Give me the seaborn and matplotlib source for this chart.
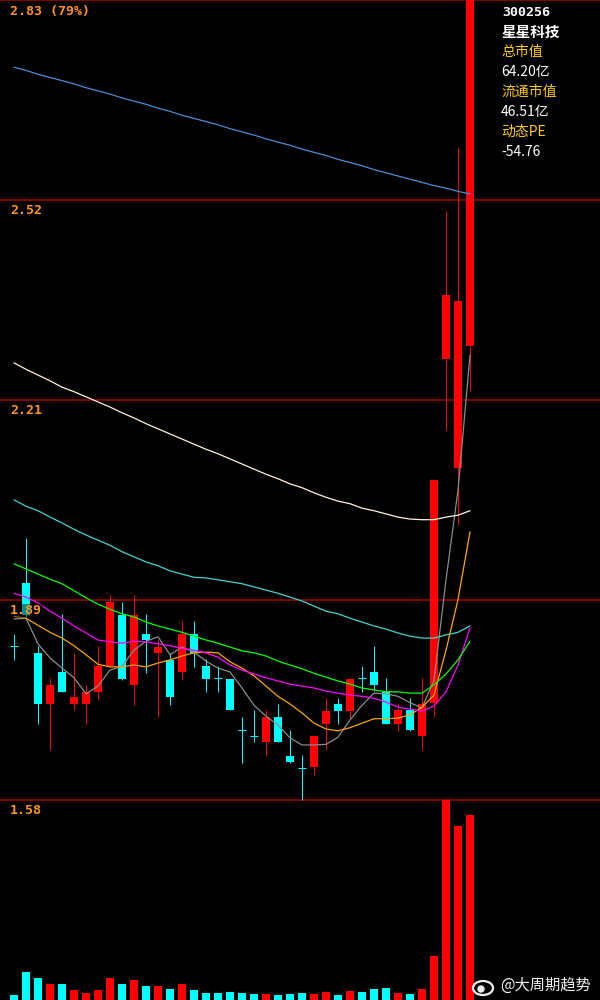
import numpy as np
import pandas as pd
import matplotlib
matplotlib.use("Agg")
import matplotlib.pyplot as plt
from matplotlib.patches import Ellipse, Circle
import seaborn as sns

# ---------------- data ----------------
open_ = [1.821, 1.919, 1.810, 1.730, 1.780, 1.730, 1.730, 1.749, 1.789, 1.869,
         1.760, 1.839, 1.810, 1.799, 1.780, 1.839, 1.789, 1.771, 1.769, 1.689,
         1.680, 1.670, 1.710, 1.649, 1.630, 1.631, 1.699, 1.730, 1.719, 1.770,
         1.780, 1.750, 1.699, 1.720, 1.680, 1.732, 2.269, 2.099, 2.289]
close = [1.821, 1.869, 1.730, 1.760, 1.749, 1.741, 1.749, 1.789, 1.889, 1.769,
         1.869, 1.830, 1.819, 1.741, 1.839, 1.810, 1.769, 1.771, 1.720, 1.689,
         1.680, 1.710, 1.670, 1.640, 1.630, 1.680, 1.719, 1.719, 1.769, 1.770,
         1.760, 1.699, 1.720, 1.689, 1.730, 2.080, 2.369, 2.360, 2.830]
high = [1.839, 1.989, 1.821, 1.771, 1.871, 1.810, 1.760, 1.821, 1.900, 1.890,
        1.900, 1.871, 1.830, 1.810, 1.860, 1.860, 1.800, 1.789, 1.769, 1.710,
        1.721, 1.721, 1.730, 1.689, 1.650, 1.680, 1.740, 1.740, 1.771, 1.789,
        1.821, 1.770, 1.730, 1.740, 1.770, 2.080, 2.500, 2.600, 2.830]
low = [1.799, 1.864, 1.699, 1.658, 1.749, 1.720, 1.699, 1.738, 1.788, 1.768,
       1.728, 1.779, 1.709, 1.728, 1.769, 1.788, 1.749, 1.749, 1.720, 1.638,
       1.670, 1.649, 1.670, 1.638, 1.580, 1.619, 1.660, 1.699, 1.708, 1.749,
       1.750, 1.699, 1.688, 1.688, 1.658, 1.710, 2.158, 2.010, 2.219]
volume = [2.5, 14, 11, 8, 8, 5, 3.5, 5, 11, 8,
          10, 7, 7, 5.5, 8, 5, 3.5, 3.5, 4, 3.5,
          3, 3, 2.5, 3, 3.5, 3, 4, 2.5, 4.5, 4,
          5.5, 6, 3.5, 3, 5.5, 22, 115, 87, 92.5]

ma5 = [1.863, 1.864, 1.824, 1.802, 1.786, 1.771, 1.746, 1.758, 1.783, 1.789,
       1.814, 1.828, 1.835, 1.807, 1.819, 1.811, 1.797, 1.786, 1.780, 1.755,
       1.728, 1.711, 1.697, 1.677, 1.666, 1.666, 1.667, 1.678, 1.705, 1.728,
       1.747, 1.746, 1.742, 1.732, 1.724, 1.767, 1.924, 2.064, 2.275]
ma10 = [1.867, 1.864, 1.853, 1.842, 1.833, 1.821, 1.807, 1.792, 1.788, 1.788,
        1.791, 1.788, 1.794, 1.799, 1.805, 1.810, 1.811, 1.810, 1.796, 1.786,
        1.774, 1.758, 1.742, 1.730, 1.716, 1.700, 1.691, 1.688, 1.693, 1.700,
        1.707, 1.707, 1.708, 1.713, 1.725, 1.744, 1.814, 1.893, 1.999]
ma20 = [1.903, 1.897, 1.888, 1.875, 1.864, 1.852, 1.841, 1.830, 1.827, 1.825,
        1.828, 1.827, 1.824, 1.821, 1.817, 1.814, 1.810, 1.803, 1.791, 1.783,
        1.777, 1.771, 1.766, 1.761, 1.758, 1.755, 1.750, 1.747, 1.744, 1.742,
        1.739, 1.733, 1.725, 1.722, 1.719, 1.727, 1.749, 1.791, 1.849]
ma30 = [1.949, 1.941, 1.933, 1.925, 1.918, 1.907, 1.896, 1.886, 1.878, 1.871,
        1.866, 1.858, 1.852, 1.847, 1.842, 1.836, 1.830, 1.825, 1.819, 1.813,
        1.810, 1.805, 1.797, 1.791, 1.785, 1.778, 1.772, 1.766, 1.761, 1.755,
        1.752, 1.749, 1.749, 1.747, 1.747, 1.760, 1.777, 1.799, 1.828]
ma60 = [2.049, 2.039, 2.032, 2.022, 2.013, 2.003, 1.994, 1.986, 1.978, 1.968,
        1.960, 1.952, 1.946, 1.938, 1.933, 1.928, 1.927, 1.924, 1.921, 1.918,
        1.913, 1.908, 1.903, 1.897, 1.891, 1.883, 1.875, 1.871, 1.864, 1.858,
        1.852, 1.847, 1.841, 1.836, 1.833, 1.833, 1.838, 1.842, 1.852]
ma120 = [2.263, 2.253, 2.244, 2.235, 2.225, 2.218, 2.210, 2.202, 2.194, 2.185,
         2.177, 2.168, 2.160, 2.152, 2.144, 2.136, 2.128, 2.121, 2.113, 2.105,
         2.097, 2.089, 2.082, 2.074, 2.068, 2.060, 2.053, 2.047, 2.043, 2.036,
         2.032, 2.027, 2.022, 2.019, 2.018, 2.018, 2.022, 2.025, 2.032]
ma250 = [2.725, 2.720, 2.714, 2.709, 2.704, 2.699, 2.693, 2.688, 2.683, 2.677,
         2.672, 2.667, 2.661, 2.656, 2.650, 2.645, 2.640, 2.635, 2.629, 2.624,
         2.619, 2.613, 2.608, 2.603, 2.597, 2.592, 2.587, 2.581, 2.576, 2.571,
         2.565, 2.560, 2.555, 2.550, 2.545, 2.540, 2.536, 2.531, 2.527]

grid_levels = [2.83, 2.5175, 2.205, 1.8925, 1.58]
grid_labels = ["2.83 (79%)", "2.52", "2.21", "1.89", "1.58"]

info_code = "300256"
info_name = "星星科技"
info_items = [("总市值", "64.20亿"), ("流通市值", "46.51亿"), ("动态PE", "-54.76")]
watermark = "@大周期趋势"

# ---------------- style ----------------
sns.set_theme(style="dark", rc={"axes.facecolor": "black", "figure.facecolor": "black"})
plt.rcParams['font.family'] = ['DejaVu Sans', 'Noto Sans CJK SC']

RED = "#FF0000"
CYAN = "#00FFFF"
GRID = "#8B0000"
LABEL = "#FF9420"
GOLD = "#FFCC00"
ma_colors = {"MA5": "#8C8C8C", "MA10": "#FFA500", "MA20": "#FF00FF", "MA30": "#00FF00",
             "MA60": "#44D4D0", "MA120": "#FFF4DC", "MA250": "#4A8ED6"}

n = len(close)
idx = np.arange(n)
o = np.array(open_); c = np.array(close); h = np.array(high); l = np.array(low)
colors = np.where(c > o, RED, CYAN)

fig = plt.figure(figsize=(6, 10), dpi=100, facecolor="black")
ax = fig.add_axes([0, 0, 1, 1])
ax.set_facecolor("black")
xlim = (-14 / 12, 586 / 12)
ylim = (2.83 - 1.5625, 2.83)

# grid lines
for lvl in grid_levels:
    ax.axhline(lvl, color=GRID, lw=1.3, zorder=1)

# candles
px = 72 / 100
ax.vlines(idx, l, h, colors=colors, lw=px, zorder=2)
body_bottom = np.minimum(o, c)
body_h = np.abs(c - o)
ax.bar(idx, body_h, bottom=body_bottom, width=0.667, color=colors, lw=0, zorder=2)
doji = body_h == 0
ax.hlines(o[doji], idx[doji] - 0.34, idx[doji] + 0.34, colors=colors[doji], lw=px, zorder=2)

# moving averages
ma_df = pd.DataFrame({"idx": np.tile(idx, 7),
                      "value": ma5 + ma10 + ma20 + ma30 + ma60 + ma120 + ma250,
                      "ma": np.repeat(list(ma_colors.keys()), n)})
sns.lineplot(data=ma_df, x="idx", y="value", hue="ma", palette=ma_colors,
             estimator=None, sort=False, legend=False, linewidth=0.9, ax=ax, zorder=3)

ax.set_xlim(*xlim)
ax.set_ylim(*ylim)
ax.axis("off")

# price labels
for lvl, lab in zip(grid_levels, grid_labels):
    ax.annotate(lab, xy=(0, lvl), xycoords=("axes fraction", "data"),
                xytext=(10, -11), textcoords="offset pixels", va="center", ha="left",
                color=LABEL, fontsize=9.5, fontweight="bold", family="DejaVu Sans Mono",
                zorder=5,
                bbox=dict(facecolor="black", alpha=0.45, edgecolor="none", pad=0.5))

# volume panel
vax = fig.add_axes([0, 0, 1, 0.2])
vax.set_facecolor("none")
vax.bar(idx, volume, width=0.667, color=colors, lw=0)
vax.set_xlim(*xlim)
vax.set_ylim(0, 100)
vax.axis("off")

# info panel
cjk = ['Noto Sans CJK SC', 'DejaVu Sans']
def ty(p):
    return 1 - p / 1000
fig.text(502 / 600, ty(12.5), info_code, color="white", fontsize=9.5, fontweight="bold",
         family="DejaVu Sans Mono", va="center", ha="left")
fig.text(501 / 600, ty(32), info_name, color="white", fontsize=10.5, fontweight="bold",
         family=cjk, va="center", ha="left")
ys = [52, 72, 92, 112, 132, 152]
k = 0
for lab, val in info_items:
    fig.text(501 / 600, ty(ys[k]), lab, color=GOLD, fontsize=10, family=cjk, va="center", ha="left")
    fig.text(501 / 600, ty(ys[k + 1]), val, color="white", fontsize=10, family=cjk, va="center", ha="left")
    k += 2

# watermark
fig.text(500 / 600, ty(985), watermark, color="#F0F0F0", fontsize=11, family=cjk,
         va="center", ha="left")
wax = fig.add_axes([0, 0, 1, 1])
wax.set_xlim(0, 600); wax.set_ylim(1000, 0); wax.axis("off"); wax.patch.set_alpha(0)
wax.add_patch(Ellipse((483, 988), 20, 14, fill=False, edgecolor="#F0F0F0", lw=1.6))
wax.add_patch(Circle((481, 989), 3, color="#F0F0F0"))

fig.savefig("out.png", dpi=100, facecolor="black")
